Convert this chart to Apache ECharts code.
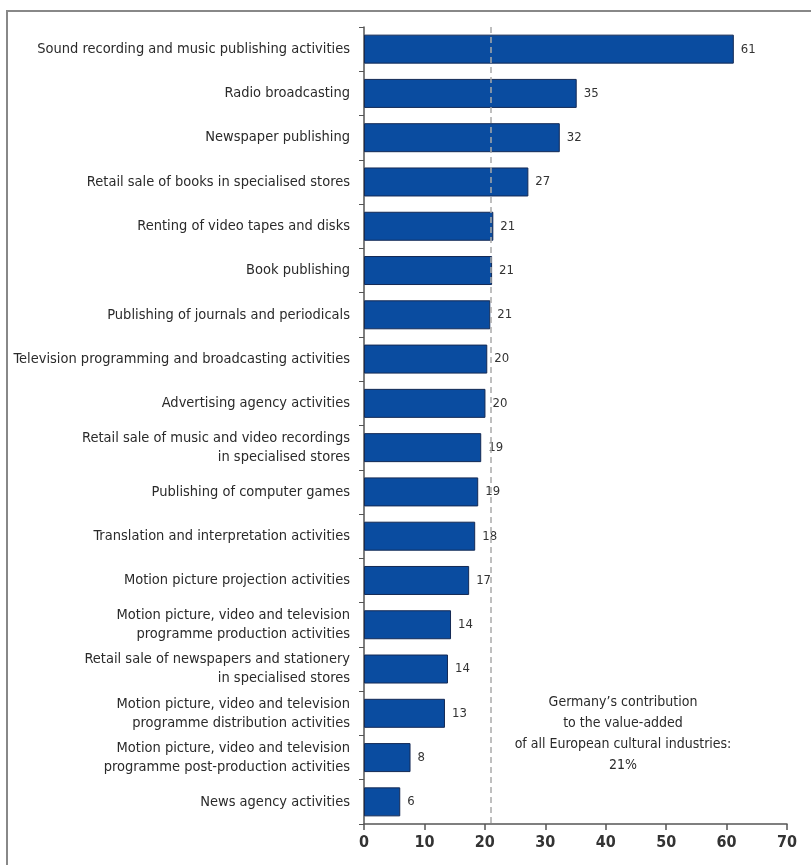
<!DOCTYPE html>
<html lang="en">
<head>
    <meta charset="UTF-8">
    <title>Germany's contribution to European cultural industries</title>
    <style>
        body {
            margin: 0;
            background: #fff;
        }
        #chart {
            width: 811px;
            height: 865px;
        }
    </style>
    <script src="https://cdn.jsdelivr.net/npm/echarts@6/dist/echarts.min.js"></script>
</head>
<body>
    <div id="chart"></div>
    <script>
        // categories, top to bottom
        const categories = [
            'Sound recording and music publishing activities',
            'Radio broadcasting',
            'Newspaper publishing',
            'Retail sale of books in specialised stores',
            'Renting of video tapes and disks',
            'Book publishing',
            'Publishing of journals and periodicals',
            'Television programming and broadcasting activities',
            'Advertising agency activities',
            'Retail sale of music and video recordings\nin specialised stores',
            'Publishing of computer games',
            'Translation and interpretation activities',
            'Motion picture projection activities',
            'Motion picture, video and television\nprogramme production activities',
            'Retail sale of newspapers and stationery\nin specialised stores',
            'Motion picture, video and television\nprogramme distribution activities',
            'Motion picture, video and television\nprogramme post-production activities',
            'News agency activities'
        ];
        // share of value-added (%), bar lengths
        const values = [61.2, 35.2, 32.4, 27.2, 21.4, 21.2, 20.9, 20.4, 20.1, 19.4, 18.9, 18.4, 17.4, 14.4, 13.9, 13.4, 7.7, 6.0];
        const germanyAverage = 21;
        const xTicks = [0, 10, 20, 30, 40, 50, 60, 70];
        const noteLines = [
            'Germany\u2019s contribution',
            'to the value-added',
            'of all European cultural industries:',
            germanyAverage + '%'
        ];

        const font = '"Liberation Sans Narrow", "DejaVu Sans Condensed", "Roboto Condensed", sans-serif';
        const chart = echarts.init(document.getElementById('chart'));

        chart.setOption({
            animation: false,
            textStyle: { fontFamily: font },
            grid: { left: 364, right: 24, top: 27, bottom: 41 },
            xAxis: {
                type: 'value',
                min: xTicks[0],
                max: xTicks[xTicks.length - 1],
                interval: 10,
                splitLine: { show: false },
                axisLine: { show: true, lineStyle: { color: '#555', width: 1.5 } },
                axisTick: { show: true, length: 6, lineStyle: { color: '#555', width: 1.5 } },
                axisLabel: { color: '#333', fontSize: 16, fontWeight: 'bold', margin: 11, fontFamily: font }
            },
            yAxis: {
                type: 'category',
                inverse: true,
                data: categories,
                axisLine: { show: true, lineStyle: { color: '#555', width: 1.5 } },
                axisTick: { show: true, length: 5, lineStyle: { color: '#555' } },
                axisLabel: { color: '#2a2a2a', fontSize: 14.5, margin: 14, lineHeight: 19, fontFamily: font }
            },
            series: [{
                type: 'bar',
                data: values,
                barWidth: 29,
                itemStyle: { color: '#0a4ca0', borderColor: '#142a55', borderWidth: 1 },
                label: {
                    show: true,
                    position: 'right',
                    distance: 7,
                    color: '#333',
                    fontSize: 13,
                    fontFamily: font,
                    formatter: p => Math.round(p.value)
                },
                markLine: {
                    silent: true,
                    symbol: 'none',
                    label: { show: false },
                    lineStyle: { color: '#aaa', type: [6, 4], width: 1.5 },
                    data: [{ xAxis: germanyAverage }]
                }
            }],
            graphic: [
                {
                    type: 'rect',
                    shape: { x: 7, y: 11, width: 900, height: 900 },
                    style: { fill: 'none', stroke: '#888', lineWidth: 2 },
                    silent: true
                },
                {
                    type: 'text',
                    x: 623,
                    y: 692,
                    silent: true,
                    style: {
                        text: noteLines.join('\n'),
                        align: 'center',
                        verticalAlign: 'top',
                        fill: '#2a2a2a',
                        fontSize: 14,
                        lineHeight: 21,
                        fontFamily: font
                    }
                }
            ]
        });
    </script>
</body>
</html>
